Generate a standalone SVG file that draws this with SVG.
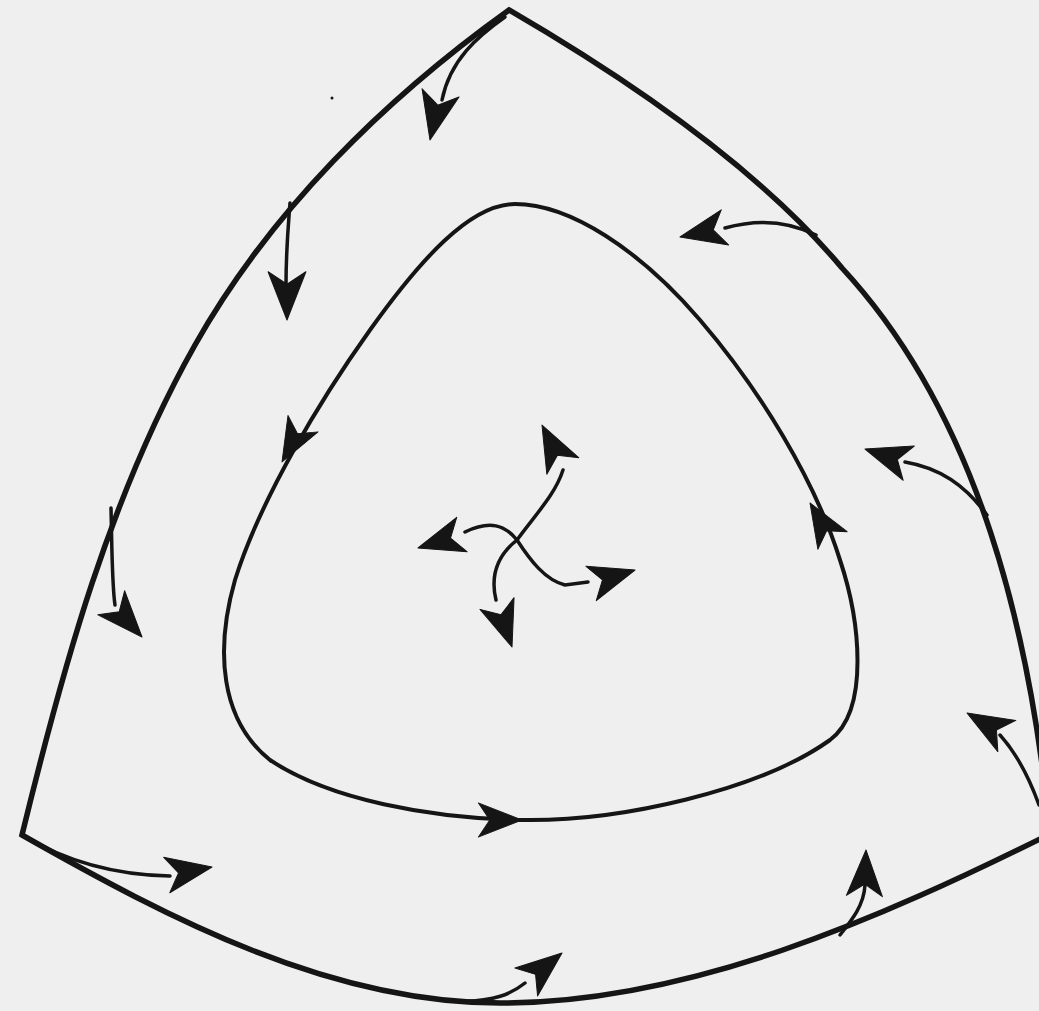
<svg xmlns="http://www.w3.org/2000/svg" width="1039" height="1011" viewBox="0 0 1039 1011">
<style>
.bg{fill:#efefef}
.edge{fill:none;stroke:#151515;stroke-width:5.5;stroke-linejoin:miter;stroke-miterlimit:20}
.orbit{fill:none;stroke:#151515;stroke-width:4}
.stem{fill:none;stroke:#151515;stroke-width:3.5;stroke-linecap:round}
.head{fill:#151515;stroke:#151515;stroke-width:1;stroke-linejoin:round}
</style>
<defs>
<path id="ah" d="M0,0 L-46,-18 L-34,0 L-46,18 Z"/>
</defs>
<rect class="bg" x="0" y="0" width="1039" height="1011"/>
<g id="boundary">
<path class="edge" d="M509,10 C384,99.5 270,212 195,345 C110,495.5 63,667 22,835 C170,919 330,1003 500,1003 C690,1003 881,918 1050,834 C1031,636 980,417 842,268 C760,170 631,81 509,10 Z"/>
</g>
<g id="inner-orbit">
<path class="orbit" d="M515,204 C470,204 420,260 370,330 C320,400 260,500 235,580 C215,650 220,720 270,760 C330,800 430,818 520,820 C620,822 760,790 830,740 C870,710 860,620 840,560 C815,480 760,390 700,320 C640,250 570,204 515,204 Z"/>
<use href="#ah" class="head" transform="translate(282,462) rotate(118.7) scale(0.95)"/>
<use href="#ah" class="head" transform="translate(522,820) rotate(0) scale(0.95)"/>
<use href="#ah" class="head" transform="translate(810,503) rotate(-121) scale(0.95)"/>
</g>
<g id="center">
<path class="stem" d="M517,540 C535,515 555,495 563,470"/>
<use href="#ah" class="head" transform="translate(542,425) rotate(-117)"/>
<path class="stem" d="M517,540 C505,525 490,520 465,532"/>
<use href="#ah" class="head" transform="translate(418,548) rotate(163)"/>
<path class="stem" d="M517,540 C498,555 490,575 496,600"/>
<use href="#ah" class="head" transform="translate(512,647) rotate(71)"/>
<path class="stem" d="M517,540 C530,560 545,580 565,585 L588,582"/>
<use href="#ah" class="head" transform="translate(635,570) rotate(-17)"/>
</g>
<g id="flow-arrows">
<path class="stem" d="M505,17 C478,36 450,60 442,100"/>
<use href="#ah" class="head" transform="translate(430,140) rotate(102.6) scale(1.05)"/>
<path class="stem" d="M290,203 C288,230 286,250 286,285"/>
<use href="#ah" class="head" transform="translate(287,320) rotate(90) scale(1.05)"/>
<path class="stem" d="M111,508 C112,550 112,585 115,605"/>
<use href="#ah" class="head" transform="translate(142,637) rotate(48)"/>
<path class="stem" d="M22,835 C60,858 110,875 170,876"/>
<use href="#ah" class="head" transform="translate(212,867) rotate(-10)"/>
<path class="stem" d="M462,1002 C495,1000 510,995 525,983"/>
<use href="#ah" class="head" transform="translate(562,953) rotate(-39)"/>
<path class="stem" d="M840,935 C852,920 864,905 865,885"/>
<use href="#ah" class="head" transform="translate(866,850) rotate(-88)"/>
<path class="stem" d="M1039,805 C1030,780 1018,755 1000,735"/>
<use href="#ah" class="head" transform="translate(967,713) rotate(210)"/>
<path class="stem" d="M987,515 C965,485 940,468 905,462"/>
<use href="#ah" class="head" transform="translate(865,449) rotate(198)"/>
<path class="stem" d="M816,235 C790,222 760,218 725,228"/>
<use href="#ah" class="head" transform="translate(680,237) rotate(168)"/>
</g>
<circle cx="332" cy="98" r="1.5" fill="#151515"/>
</svg>
